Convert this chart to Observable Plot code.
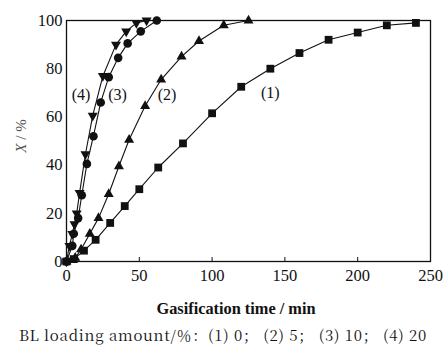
<!DOCTYPE html>
<html><head><meta charset="utf-8">
<script src="https://cdn.jsdelivr.net/npm/d3@7"></script>
<script src="https://cdn.jsdelivr.net/npm/@observablehq/plot@0.6"></script>
<style>
body{margin:0;background:#fff;}
#chart{height:320px;}
#cap{margin:5px 0 0 19px;font-family:'Noto Serif CJK SC','Liberation Serif',serif;font-size:15px;color:#111;white-space:nowrap;line-height:20px;letter-spacing:0.75px;}
</style></head>
<body><div id="chart"></div><div id="cap">BL loading amount/％：(1) 0； (2) 5； (3) 10； (4) 20</div>
<script>
const s1x = [0, 5, 12, 20, 30, 40, 50, 63, 80, 100, 120, 140, 160, 180, 200, 220, 240];
const s1y = [0, 1, 4.5, 9, 16, 23, 30, 39, 49, 61.5, 72.5, 80, 86.5, 92, 95, 98, 99];
const s2x = [0, 6, 10, 16, 22, 29, 36, 43, 54, 65, 79, 91, 108, 125];
const s2y = [0, 1.5, 5, 11.5, 18, 28, 39.5, 50.5, 64.5, 75.5, 85, 91.5, 98, 100];
const s3x = [0, 4, 5, 8, 10.5, 14, 18.5, 23.5, 29, 35.5, 42, 51, 62];
const s3y = [0, 6.5, 11.5, 18, 27.5, 40.5, 52, 66, 76.5, 84.5, 90.5, 95.5, 100];
const s4x = [0, 2, 4, 5.5, 7, 9, 13, 18, 25, 34, 41, 48, 55];
const s4y = [0, 6.5, 11.5, 15.5, 20, 28.5, 44.5, 60.5, 77, 90, 95.5, 99, 100];
const seriesNames = ["(1)", "(2)", "(3)", "(4)"];
const labelX = [140, 69, 35, 10];
const labelY = [70, 69, 69, 69];
const xTicks = [0, 50, 100, 150, 200, 250];
const yTicks = [0, 20, 40, 60, 80, 100];

const FONT = "Liberation Serif";
const invTri = {draw(ctx, size){const r=Math.sqrt(size/(3*Math.sqrt(3)/4))*0.62; ctx.moveTo(0, r); ctx.lineTo(r*0.866, -r*0.5); ctx.lineTo(-r*0.866, -r*0.5); ctx.closePath();}};
const upTri = {draw(ctx, size){const r=Math.sqrt(size/(3*Math.sqrt(3)/4))*0.62; ctx.moveTo(0, -r); ctx.lineTo(r*0.866, r*0.5); ctx.lineTo(-r*0.866, r*0.5); ctx.closePath();}};

const xs = [s1x, s2x, s3x, s4x], ys = [s1y, s2y, s3y, s4y];
const symbols = ["square", upTri, "circle", invTri];
const sizes = [4.4, 6, 4.3, 6];
const marks = [];
for (let i = 0; i < 4; i++) {
  const data = xs[i].map((x, j) => ({x, y: ys[i][j]}));
  marks.push(Plot.line(data, {x: "x", y: "y", stroke: "#111", strokeWidth: 1.1}));
  marks.push(Plot.dot(data, {x: "x", y: "y", symbol: symbols[i], r: sizes[i], fill: "#111", stroke: "none"}));
}
const labels = seriesNames.map((n, i) => ({n, x: labelX[i], y: labelY[i]}));

const chart = Plot.plot({
  width: 443, height: 320,
  marginLeft: 66, marginRight: 13, marginTop: 20, marginBottom: 59,
  style: {fontFamily: FONT, fontSize: "16px", color: "#111", background: "#fff"},
  x: {domain: [0, 250], ticks: xTicks, label: null},
  y: {domain: [0, 100], ticks: yTicks, label: null},
  marks: [
    Plot.frame({stroke: "#111", strokeWidth: 1.3}),
    Plot.axisX({ticks: xTicks, tickSize: -4, tickPadding: 12, label: null, fontSize: 16.5, fontFamily: FONT}),
    Plot.axisY({ticks: yTicks, tickSize: 0, tickPadding: 4, label: null, fontSize: 16.5, fontFamily: FONT}),
    ...marks,
    Plot.text(labels, {x: "x", y: "y", text: "n", fontSize: 16, fill: "#111", fontFamily: FONT})
  ]
});
const svg = d3.select(chart);
svg.append("text").attr("x", 236).attr("y", 314).attr("text-anchor", "middle")
  .attr("font-family", FONT).attr("font-size", 16).attr("font-weight", "bold").attr("fill", "#111")
  .attr("textLength", 159).attr("lengthAdjust", "spacingAndGlyphs")
  .text("Gasification time / min");
const yl = svg.append("text").attr("transform", "translate(26,136) rotate(-90)").attr("text-anchor", "middle")
  .attr("font-family", FONT).attr("font-size", 15).attr("fill", "#555");
yl.append("tspan").attr("font-style", "italic").text("X");
yl.append("tspan").text(" / %");
document.getElementById("chart").appendChild(chart);
</script>
</body></html>
